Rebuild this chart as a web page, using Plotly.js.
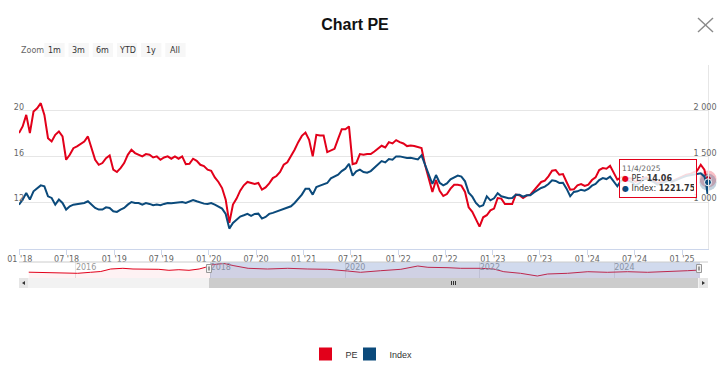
<!DOCTYPE html>
<html><head><meta charset="utf-8">
<script src="https://cdn.plot.ly/plotly-3.0.1.min.js"></script>
<style>html,body{margin:0;padding:0;background:#fff;}#chart{width:720px;height:370px;}</style>
</head><body><div id="chart"></div>
<script>
// ---------- data ----------
const startDate = '2017-12-29';   // first sample (every 14 days after)
const stepDays = 14;
const tailDates = ['2025-04-03', '2025-04-09', '2025-04-11'];

const peValues = [
18.06,18.64,19.65,18.06,19.94,20.23,20.67,19.65,17.62,17.33,
17.91,18.20,17.77,15.74,16.17,16.75,16.90,17.10,17.33,17.77,
16.75,15.74,15.30,15.45,15.88,16.11,14.87,14.67,15.01,15.45,
16.17,16.61,16.32,16.17,16.03,16.23,16.17,15.94,16.03,15.74,
15.94,16.03,15.83,16.03,15.83,16.03,15.36,15.39,15.83,15.65,
15.30,15.19,14.87,14.78,14.20,13.80,13.27,12.26,10.23,11.83,
12.35,13.04,13.51,13.80,13.71,13.62,13.71,13.13,13.33,13.68,
14.14,14.32,14.67,15.30,15.51,16.00,16.61,17.27,17.82,18.11,
17.48,16.03,17.91,17.85,17.85,16.40,16.52,16.69,17.56,18.40,
18.40,18.64,15.36,15.45,16.23,16.17,16.23,16.23,16.46,16.75,
16.96,16.81,17.27,17.16,17.45,17.27,17.16,16.93,16.98,16.93,
16.81,16.75,15.25,14.09,12.93,13.97,13.04,12.58,12.75,13.22,
13.56,13.56,13.48,12.93,11.59,11.19,10.52,9.91,10.72,10.90,
11.33,11.48,12.40,12.35,11.88,11.88,11.88,12.69,12.64,12.40,
12.61,12.69,13.07,13.42,13.80,13.91,14.29,14.78,14.84,14.43,
14.49,13.80,13.13,13.16,13.51,13.62,13.45,13.56,13.97,14.20,
14.84,15.01,14.96,15.22,14.58,14.00,14.20,14.29,14.14,14.09,
13.80,13.91,14.14,14.20,14.00,13.91,13.71,13.80,13.91,14.00,
13.85,14.00,14.14,14.29,14.43,14.49,14.67,14.78,15.30,14.87,
14.30,13.80,14.06];

const indexValues = [
978,1033,1105,1033,1123,1152,1188,1178,1069,1051,
978,1033,996,924,960,978,986,996,996,1015,
978,942,924,924,949,942,906,899,924,942,
978,1007,996,996,978,996,986,971,978,971,
986,996,993,996,996,1007,996,1015,1029,1015,
1000,989,986,996,978,957,935,877,717,779,
819,848,862,877,855,877,880,826,844,877,
888,902,917,931,946,960,996,1040,1087,1152,
1152,1087,1170,1185,1196,1214,1265,1286,1304,1344,
1370,1424,1294,1341,1359,1333,1326,1344,1377,1417,
1453,1438,1475,1467,1504,1504,1493,1486,1489,1482,
1471,1515,1413,1315,1203,1301,1217,1188,1210,1254,
1275,1294,1283,1232,1109,1065,996,957,971,1069,
1025,1047,1102,1069,1058,1047,1051,1087,1087,1065,
1080,1080,1112,1141,1160,1174,1203,1243,1236,1214,
1217,1152,1069,1116,1123,1141,1130,1149,1185,1203,
1246,1268,1257,1283,1225,1178,1239,1250,1239,1225,
1188,1210,1246,1261,1239,1225,1196,1210,1232,1239,
1225,1239,1261,1275,1290,1297,1312,1319,1319,1286,
1230,1094,1221.75];

// navigator (long history of PE, grouped)
const navDates = ['2015-04-20','2015-06-25','2015-08-20','2015-11-05','2016-01-10','2016-03-20','2016-05-15','2016-07-08','2016-09-12','2016-11-06',
'2017-01-01','2017-03-26','2017-05-20','2017-07-13','2017-09-06','2017-10-31','2017-12-06','2018-01-05','2018-01-30','2018-03-15',
'2018-05-08','2018-07-24','2018-11-06','2019-02-24','2019-06-13','2019-09-27','2020-01-15','2020-03-25','2020-07-13','2020-10-30',
'2021-01-30','2021-03-26','2021-07-13','2021-09-20','2022-01-08','2022-03-18','2022-05-12','2022-08-11','2022-11-10','2023-01-05',
'2023-04-23','2023-08-11','2023-11-25','2024-03-14','2024-07-01','2024-10-19','2025-02-03','2025-04-11'];
const navPE = [13.17,12.92,12.25,12.08,12.25,13.08,13.75,15.83,16.42,15.83,
15.83,15.58,14.75,15.25,14.75,15.83,17.33,19.17,19.75,20.42,
18.58,16.42,15.83,16.42,15.83,15.58,14.17,13.08,14.42,15.58,
18.33,17.25,16.92,16.42,16.42,15.83,13.58,12.25,10.00,11.67,
12.25,13.58,13.08,13.58,13.08,13.58,14.42,15.00];

const seriesNames = ['PE', 'Index'];
const xTickVals = ['2018-01-01','2018-07-01','2019-01-01','2019-07-01','2020-01-01','2020-07-01','2021-01-01','2021-07-01',
  '2022-01-01','2022-07-01','2023-01-01','2023-07-01','2024-01-01','2024-07-01','2025-01-01'];
const xTickText = ["01 '18","07 '18","01 '19","07 '19","01 '20","07 '20","01 '21","07 '21",
  "01 '22","07 '22","01 '23","07 '23","01 '24","07 '24","01 '25"];
const peTickVals = [12, 16, 20, 24];
const peTickText = ['12', '16', '20', ''];
const idxTickVals = [1000, 1500, 2000];
const idxTickText = ['1 000', '1 500', '2 000'];
const navTickVals = ['2016-01-01','2018-01-01','2020-01-01','2022-01-01','2024-01-01'];
const navTickText = ['2016','2018','2020','2022','2024'];
const zoomButtons = ['1m', '3m', '6m', 'YTD', '1y', 'All'];

// ---------- build ----------
const dates = [];
const d0 = new Date(startDate + 'T00:00:00Z');
for (let i = 0; i < peValues.length - tailDates.length; i++) {
  dates.push(new Date(d0.getTime() + i * stepDays * 86400000).toISOString().slice(0, 10));
}
dates.push(...tailDates);

const RED = '#e2001a', BLUE = '#0b4a7b';
const W = 720, H = 370, ML = 19, MR = 12, MT = 65, MB = 82;
const PW = W - ML - MR, PH = H - MT - MB;
const px = x => (x - ML) / PW;
const py = y => (MT + PH - y) / PH;
const TXT = 'DejaVu Sans';

const last = dates.length - 1;
const lastDate = dates[last];
const [yy, mm, dd] = lastDate.split('-');
const tipDate = (+dd) + '/' + (+mm) + '/' + yy;

const traces = [
  {x: navDates, y: navPE, xaxis: 'x2', yaxis: 'y3', mode: 'lines', line: {color: RED, width: 1},
   fill: 'tozeroy', fillcolor: 'rgba(226,0,26,0.05)', showlegend: false, hoverinfo: 'skip'},
  {x: dates, y: peValues, name: seriesNames[0], xaxis: 'x', yaxis: 'y', mode: 'lines',
   line: {color: RED, width: 2}, showlegend: false, hoverinfo: 'skip'},
  {x: dates, y: indexValues, name: seriesNames[1], xaxis: 'x', yaxis: 'y2', mode: 'lines',
   line: {color: BLUE, width: 2}, showlegend: false, hoverinfo: 'skip'},
  {x: [dates[last]], y: [peValues[last]], yaxis: 'y', mode: 'markers', cliponaxis: false,
   marker: {size: 17, color: 'rgba(226,0,26,0.25)'}, showlegend: false, hoverinfo: 'skip'},
  {x: [dates[last]], y: [indexValues[last]], yaxis: 'y2', mode: 'markers', cliponaxis: false,
   marker: {size: 17, color: 'rgba(11,74,123,0.25)'}, showlegend: false, hoverinfo: 'skip'},
  {x: [dates[last]], y: [peValues[last]], yaxis: 'y', mode: 'markers', cliponaxis: false,
   marker: {size: 7, color: RED, line: {color: '#fff', width: 1}}, showlegend: false, hoverinfo: 'skip'},
  {x: [dates[last]], y: [indexValues[last]], yaxis: 'y2', mode: 'markers', cliponaxis: false,
   marker: {size: 7, color: BLUE, line: {color: '#fff', width: 1}}, showlegend: false, hoverinfo: 'skip'},
  {x: [null], y: [null], name: seriesNames[0], legend: 'legend', mode: 'markers',
   marker: {symbol: 'square', size: 13, color: RED}},
  {x: [null], y: [null], name: seriesNames[1], legend: 'legend2', mode: 'markers',
   marker: {symbol: 'square', size: 13, color: BLUE}}
];

const shapes = [];
const annotations = [];
function rect(x0, y0, x1, y1, fill, line, layer) {
  shapes.push({type: 'rect', xref: 'paper', yref: 'paper', x0: px(x0), x1: px(x1), y0: py(y1), y1: py(y0),
    fillcolor: fill, line: line || {width: 0}, layer: layer || 'above'});
}
function seg(x0, y0, x1, y1, color, width) {
  shapes.push({type: 'line', xref: 'paper', yref: 'paper', x0: px(x0), x1: px(x1), y0: py(y0), y1: py(y1),
    line: {color: color, width: width}});
}
// navigator selection mask
shapes.push({type: 'rect', xref: 'x2', yref: 'paper', x0: dates[0], x1: dates[last], y0: py(278), y1: py(262),
  fillcolor: 'rgba(102,133,194,0.3)', line: {width: 0}, layer: 'above'});
seg(19, 262, 708, 262, '#cccccc', 1);
// scrollbar
rect(19, 278, 708, 288, '#f2f2f2');
rect(209, 278, 698, 288, '#cccccc');
rect(19, 278, 28, 288, '#e6e6e6');
rect(699, 278, 708, 288, '#e6e6e6');
shapes.push({type: 'path', xref: 'paper', yref: 'paper', fillcolor: '#333', line: {width: 0},
  path: `M${px(25)},${py(281)} L${px(22)},${py(283)} L${px(25)},${py(285)} Z`});
shapes.push({type: 'path', xref: 'paper', yref: 'paper', fillcolor: '#333', line: {width: 0},
  path: `M${px(702)},${py(281)} L${px(705)},${py(283)} L${px(702)},${py(285)} Z`});
[451.5, 453.5, 455.5].forEach(x => seg(x, 281, x, 285, '#333', 1));
// navigator handles
[[206.5, 211.5], [696.5, 701.5]].forEach(([a, b]) => {
  rect(a, 264.5, b, 272.5, '#f2f2f2', {color: '#999', width: 1});
  seg(a + 2, 266.5, a + 2, 270.5, '#999', 1);
  seg(a + 3, 266.5, a + 3, 270.5, '#999', 1);
});
// close icon
seg(698, 18, 713, 32, '#8a8a8a', 1.4);
seg(698, 32, 713, 18, '#8a8a8a', 1.4);
// zoom buttons
annotations.push({xref: 'paper', yref: 'paper', x: px(19), y: py(50), xanchor: 'left', yanchor: 'middle',
  text: 'Zoom', showarrow: false, font: {family: TXT, size: 8, color: '#666'}});
zoomButtons.forEach((b, i) => {
  const x0 = 44.3 + 24.2 * i;
  rect(x0, 43, x0 + 20.3, 57, '#f7f7f7', {width: 0}, 'below');
  annotations.push({xref: 'paper', yref: 'paper', x: px(x0 + 10.15), y: py(50), xanchor: 'center', yanchor: 'middle',
    text: b, showarrow: false, font: {family: TXT, size: 8, color: '#333'}});
});
// tooltip
annotations.push({xref: 'paper', yref: 'paper', x: px(619), y: py(159), xanchor: 'left', yanchor: 'top',
  align: 'left', valign: 'middle', width: 72, height: 33, borderpad: 2, showarrow: false,
  bgcolor: 'rgba(255,255,255,0.85)', bordercolor: RED, borderwidth: 1,
  font: {family: TXT, size: 8, color: '#333'},
  text: `<span style="font-size:7.5px;color:#666">${tipDate}</span><br>` +
        `<span style="color:${RED}">●</span> ${seriesNames[0]}: <b>${peValues[last].toFixed(2)}</b><br>` +
        `<span style="color:${BLUE}">●</span> ${seriesNames[1]}: <b>${indexValues[last].toFixed(2)}</b>`});

const tickFont = {family: TXT, size: 8, color: '#666'};
const legendBase = {orientation: 'h', xanchor: 'left', y: py(354), yanchor: 'middle', itemsizing: 'trace',
  font: {family: 'Liberation Sans', size: 9, color: '#333'}, bgcolor: 'rgba(0,0,0,0)'};
const layout = {
  width: W, height: H, margin: {l: ML, r: MR, t: MT, b: MB, pad: 0, autoexpand: false},
  paper_bgcolor: '#fff', plot_bgcolor: 'rgba(0,0,0,0)',
  title: {text: 'Chart PE', x: 355 / W, xanchor: 'center', xref: 'container', y: 1 - 24 / H, yanchor: 'middle',
    font: {family: 'Liberation Sans', size: 16, color: '#111', weight: 'bold'}},
  showlegend: true,
  legend: Object.assign({}, legendBase, {x: px(305.5)}),
  legend2: Object.assign({}, legendBase, {x: px(349.5)}),
  xaxis: {domain: [0, 1], anchor: 'y', type: 'date', range: [dates[0], dates[last]],
    tickvals: xTickVals, ticktext: xTickText, ticks: 'outside', ticklen: 5, tickcolor: '#ccd6eb',
    showline: true, linecolor: '#ccd6eb', linewidth: 1, showgrid: false, zeroline: false,
    tickfont: tickFont, ticklabelstandoff: -2},
  yaxis: {domain: [py(248.5), 1], anchor: 'x', range: [8, 24], tickvals: peTickVals, ticktext: peTickText,
    showgrid: true, gridcolor: '#e6e6e6', zeroline: false, ticks: '', showline: false,
    tickfont: tickFont, ticklabelstandoff: -6, ticklabelshift: -4},
  yaxis2: {overlaying: 'y', side: 'right', anchor: 'x', range: [500, 2500], tickvals: idxTickVals, ticktext: idxTickText,
    showgrid: false, zeroline: false, ticks: '', showline: true, linecolor: '#e6e6e6',
    tickfont: tickFont, ticklabelstandoff: -17, ticklabelshift: -4},
  xaxis2: {domain: [px(28), px(700)], anchor: 'y3', type: 'date', range: ['2015-04-16', dates[last]],
    tickvals: navTickVals, ticktext: navTickText, showgrid: true, gridcolor: '#e6e6e6', ticks: '',
    ticklabelposition: 'inside right', tickfont: {family: TXT, size: 8, color: '#999'},
    showline: false, zeroline: false},
  yaxis3: {domain: [py(278), py(262)], anchor: 'x2', range: [8.33, 21.67], visible: false},
  shapes: shapes, annotations: annotations
};
Plotly.newPlot('chart', traces, layout, {displayModeBar: false, staticPlot: true});
</script>
</body></html>
